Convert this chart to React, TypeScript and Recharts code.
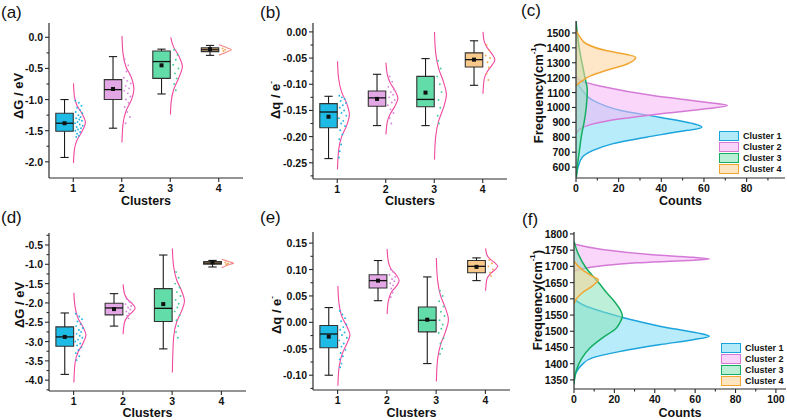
import React from "react";
import {
  ComposedChart,
  XAxis,
  YAxis,
  Line,
  Area,
  Scatter,
  ReferenceArea,
  ReferenceLine,
  Legend,
} from "recharts";

const clusters = [1, 2, 3, 4];
const clusterNames = ["Cluster 1", "Cluster 2", "Cluster 3", "Cluster 4"];

// box stats per cluster: [lower whisker, Q1, median, Q3, upper whisker, mean]
const boxA = [
  [-1.93, -1.51, -1.38, -1.22, -1.0, -1.38],
  [-1.46, -1.0, -0.84, -0.68, -0.31, -0.83],
  [-0.91, -0.66, -0.39, -0.22, -0.19, -0.45],
  [-0.29, -0.23, -0.2, -0.17, -0.13, -0.19],
];
const boxB = [
  [-0.242, -0.183, -0.153, -0.137, -0.123, -0.162],
  [-0.179, -0.142, -0.126, -0.113, -0.081, -0.128],
  [-0.179, -0.143, -0.129, -0.085, -0.051, -0.116],
  [-0.102, -0.067, -0.053, -0.04, -0.017, -0.053],
];
const boxD = [
  [-3.85, -3.12, -2.88, -2.62, -2.26, -2.88],
  [-2.6, -2.31, -2.13, -2.01, -1.76, -2.16],
  [-3.19, -2.48, -2.14, -1.63, -0.76, -2.03],
  [-1.07, -1.0, -0.97, -0.93, -0.9, -0.95],
];
const boxE = [
  [-0.1, -0.048, -0.022, -0.006, 0.028, -0.027],
  [0.041, 0.065, 0.079, 0.09, 0.117, 0.079],
  [-0.078, -0.018, 0.004, 0.029, 0.086, 0.005],
  [0.079, 0.094, 0.106, 0.117, 0.122, 0.105],
];

// distribution curves: [value, relative density]
const curveA = [
  [[-0.74, 0], [-0.95, 0.08], [-1.1, 0.3], [-1.22, 0.7], [-1.37, 1], [-1.52, 0.7], [-1.65, 0.3], [-1.8, 0.08], [-2.02, 0]],
  [[0.02, 0], [-0.25, 0.08], [-0.48, 0.35], [-0.65, 0.8], [-0.83, 1], [-1.0, 0.8], [-1.18, 0.35], [-1.4, 0.08], [-1.69, 0]],
  [[0.0, 0.02], [-0.15, 0.25], [-0.3, 0.7], [-0.47, 1], [-0.65, 0.7], [-0.85, 0.25], [-1.05, 0.05], [-1.24, 0]],
  [[-0.12, 0], [-0.17, 0.7], [-0.2, 1.05], [-0.23, 0.7], [-0.29, 0]],
];
const curveB = [
  [[-0.056, 0], [-0.09, 0.1], [-0.115, 0.35], [-0.135, 0.75], [-0.158, 1], [-0.18, 0.75], [-0.2, 0.35], [-0.225, 0.1], [-0.263, 0]],
  [[-0.059, 0], [-0.08, 0.1], [-0.097, 0.35], [-0.112, 0.75], [-0.127, 1], [-0.142, 0.75], [-0.157, 0.35], [-0.173, 0.1], [-0.196, 0]],
  [[0.0, 0], [-0.04, 0.1], [-0.07, 0.35], [-0.095, 0.75], [-0.12, 1], [-0.145, 0.75], [-0.17, 0.35], [-0.2, 0.1], [-0.244, 0]],
  [[0.0, 0], [-0.018, 0.1], [-0.03, 0.35], [-0.042, 0.75], [-0.053, 1], [-0.064, 0.75], [-0.076, 0.35], [-0.09, 0.1], [-0.118, 0]],
];
const curveD = [
  [[-1.74, 0], [-2.1, 0.1], [-2.4, 0.35], [-2.62, 0.75], [-2.83, 1], [-3.05, 0.75], [-3.27, 0.35], [-3.55, 0.1], [-4.06, 0]],
  [[-1.52, 0], [-1.75, 0.1], [-1.9, 0.35], [-2.02, 0.75], [-2.13, 1], [-2.24, 0.75], [-2.36, 0.35], [-2.52, 0.1], [-2.81, 0]],
  [[-0.59, 0], [-1.05, 0.1], [-1.4, 0.35], [-1.68, 0.75], [-1.95, 1], [-2.22, 0.75], [-2.5, 0.35], [-2.9, 0.1], [-3.8, 0]],
  [[-0.87, 0], [-0.94, 0.7], [-0.97, 1.0], [-1.0, 0.7], [-1.09, 0]],
];
const curveE = [
  [[0.069, 0], [0.035, 0.1], [0.01, 0.35], [-0.008, 0.75], [-0.024, 1], [-0.04, 0.75], [-0.06, 0.35], [-0.085, 0.1], [-0.12, 0]],
  [[0.139, 0], [0.115, 0.1], [0.1, 0.35], [0.09, 0.75], [0.079, 1], [0.068, 0.75], [0.057, 0.35], [0.04, 0.1], [0.016, 0]],
  [[0.122, 0], [0.08, 0.1], [0.05, 0.35], [0.027, 0.75], [0.005, 1], [-0.018, 0.75], [-0.042, 0.35], [-0.07, 0.1], [-0.112, 0]],
  [[0.14, 0], [0.128, 0.1], [0.12, 0.35], [0.113, 0.75], [0.106, 1], [0.099, 0.75], [0.091, 0.35], [0.082, 0.1], [0.06, 0]],
];

// raw points next to each box: [jitter 0..1, value]
const dotsA = [
  [[0.1, -1.02], [0.5, -1.05], [0.8, -1.1], [0.3, -1.13], [0.65, -1.17], [0.15, -1.2], [0.9, -1.22], [0.45, -1.25], [0.7, -1.28], [0.2, -1.3], [0.55, -1.32], [0.85, -1.34], [0.35, -1.36], [0.05, -1.38], [0.6, -1.4], [0.95, -1.42], [0.25, -1.44], [0.75, -1.46], [0.4, -1.48], [0.1, -1.5], [0.65, -1.52], [0.3, -1.55], [0.5, -1.58], [0.2, -1.6]],
  [[0.2, -0.35], [0.6, -0.45], [0.4, -0.55], [0.8, -0.6], [0.1, -0.65], [0.5, -0.7], [0.9, -0.74], [0.3, -0.78], [0.7, -0.82], [0.15, -0.86], [0.55, -0.9], [0.85, -0.95], [0.35, -1.0], [0.65, -1.05], [0.2, -1.12], [0.5, -1.2], [0.8, -1.28], [0.3, -1.38]],
  [[0.3, -0.2], [0.7, -0.28], [0.5, -0.36], [0.2, -0.44], [0.8, -0.5], [0.4, -0.58], [0.6, -0.66], [0.3, -0.75], [0.5, -0.85]],
  [[0.3, -0.18], [0.6, -0.2], [0.4, -0.22]],
];
const dotsB = [
  [[0.1, -0.122], [0.4, -0.125], [0.7, -0.128], [0.25, -0.132], [0.85, -0.136], [0.5, -0.14], [0.15, -0.145], [0.65, -0.15], [0.35, -0.155], [0.9, -0.16], [0.05, -0.165], [0.55, -0.17], [0.3, -0.175], [0.75, -0.18], [0.2, -0.188], [0.45, -0.196], [0.1, -0.205], [0.3, -0.215], [0.15, -0.228], [0.05, -0.24]],
  [[0.3, -0.085], [0.6, -0.095], [0.15, -0.105], [0.8, -0.11], [0.45, -0.115], [0.7, -0.12], [0.25, -0.125], [0.9, -0.13], [0.55, -0.135], [0.1, -0.14], [0.4, -0.148], [0.75, -0.155], [0.3, -0.165], [0.5, -0.175]],
  [[0.3, -0.055], [0.6, -0.07], [0.2, -0.085], [0.5, -0.1], [0.7, -0.115], [0.35, -0.13], [0.55, -0.145], [0.25, -0.16], [0.4, -0.175]],
  [[0.3, -0.025], [0.6, -0.035], [0.2, -0.045], [0.7, -0.05], [0.4, -0.058], [0.55, -0.068], [0.3, -0.08], [0.5, -0.092]],
];
const dotsD = [
  [[0.1, -2.28], [0.5, -2.35], [0.8, -2.42], [0.3, -2.48], [0.65, -2.55], [0.15, -2.6], [0.9, -2.65], [0.45, -2.7], [0.7, -2.75], [0.2, -2.8], [0.55, -2.85], [0.85, -2.9], [0.35, -2.95], [0.05, -3.0], [0.6, -3.05], [0.25, -3.1], [0.75, -3.15], [0.4, -3.22], [0.1, -3.3], [0.5, -3.38], [0.2, -3.48]],
  [[0.3, -1.9], [0.6, -1.97], [0.15, -2.03], [0.8, -2.08], [0.45, -2.12], [0.7, -2.17], [0.25, -2.22], [0.55, -2.27], [0.35, -2.33], [0.5, -2.4]],
  [[0.3, -1.2], [0.6, -1.35], [0.2, -1.5], [0.7, -1.6], [0.4, -1.72], [0.8, -1.82], [0.25, -1.92], [0.6, -2.02], [0.45, -2.12], [0.15, -2.22], [0.7, -2.32], [0.35, -2.45], [0.55, -2.6], [0.3, -2.75], [0.5, -2.9]],
  [[0.3, -0.95], [0.6, -0.98], [0.4, -1.0]],
];
const dotsE = [
  [[0.1, 0.022], [0.4, 0.015], [0.7, 0.008], [0.25, 0.002], [0.85, -0.004], [0.5, -0.009], [0.15, -0.014], [0.65, -0.019], [0.35, -0.024], [0.9, -0.029], [0.05, -0.034], [0.55, -0.04], [0.3, -0.046], [0.75, -0.052], [0.2, -0.058], [0.45, -0.064], [0.1, -0.07], [0.3, -0.078], [0.15, -0.085]],
  [[0.3, 0.1], [0.6, 0.095], [0.15, 0.09], [0.8, 0.086], [0.45, 0.082], [0.7, 0.078], [0.25, 0.074], [0.55, 0.07], [0.35, 0.064], [0.5, 0.056], [0.3, 0.048]],
  [[0.3, 0.06], [0.6, 0.05], [0.2, 0.04], [0.7, 0.03], [0.4, 0.02], [0.8, 0.012], [0.25, 0.004], [0.6, -0.004], [0.45, -0.012], [0.15, -0.02], [0.7, -0.03], [0.35, -0.04], [0.55, -0.05], [0.3, -0.06]],
  [[0.3, 0.118], [0.6, 0.112], [0.2, 0.106], [0.7, 0.1], [0.4, 0.094], [0.5, 0.088]],
];

// frequency histograms (fitted): [frequency cm-1, counts]
const densC = [
  [[1180, 0], [1114, 3], [1047, 8], [980, 21], [935, 39], [895, 54], [868, 59], [835, 47], [801, 33], [756, 17], [712, 8], [667, 3], [600, 1], [533, 0]],
  [[1214, 0], [1180, 2], [1136, 14], [1080, 36], [1035, 61], [1013, 71], [991, 61], [957, 39], [924, 21], [890, 8], [857, 2], [823, 0]],
  [[1580, 0], [1500, 0.6], [1400, 1.5], [1300, 2.8], [1200, 4.2], [1120, 5.3], [1000, 4.8], [900, 3.8], [823, 2.7], [700, 1.5], [600, 0.6], [533, 0.2]],
  [[1520, 0], [1470, 2], [1426, 5], [1382, 14], [1355, 24], [1337, 28], [1315, 27], [1292, 24], [1248, 14], [1214, 7], [1170, 2], [1147, 0]],
];
const densF = [
  [[1598, 0], [1577, 6], [1557, 16], [1536, 28], [1515, 43], [1495, 61], [1485, 67], [1474, 59], [1459, 43], [1438, 23], [1418, 9], [1397, 4], [1372, 1], [1346, 0]],
  [[1769, 0], [1752, 14], [1736, 39], [1728, 59], [1723, 67], [1718, 56], [1711, 31], [1702, 14], [1695, 6], [1685, 0]],
  [[1777, 0], [1740, 2], [1695, 6], [1644, 13], [1620, 16], [1592, 20], [1565, 23], [1546, 24], [1530, 23], [1510, 21], [1479, 14], [1449, 8], [1418, 4], [1377, 1], [1336, 0]],
  [[1716, 0], [1690, 4], [1670, 9], [1659, 12], [1650, 11], [1639, 9], [1618, 4], [1598, 1], [1582, 0]],
];

// tick values
const ticksAMajor = [-2, -1.5, -1, -0.5, 0];
const ticksAMinor = [-1.75, -1.25, -0.75, -0.25];
const ticksBMajor = [-0.25, -0.2, -0.15, -0.1, -0.05, 0];
const ticksBMinor = [-0.275, -0.225, -0.175, -0.125, -0.075, -0.025];
const ticksDMajor = [-4, -3.5, -3, -2.5, -2, -1.5, -1, -0.5];
const ticksDMinor = [-4.25, -3.75, -3.25, -2.75, -2.25, -1.75, -1.25, -0.75, -0.25];
const ticksEMajor = [-0.1, -0.05, 0, 0.05, 0.1, 0.15];
const ticksEMinor = [-0.125, -0.075, -0.025, 0.025, 0.075, 0.125];
const ticksCFreq = [600, 700, 800, 900, 1000, 1100, 1200, 1300, 1400, 1500];
const ticksFFreq = [1350, 1400, 1450, 1500, 1550, 1600, 1650, 1700, 1750, 1800];
const ticksCCounts = [0, 20, 40, 60, 80];
const ticksCCountsMinor = [10, 30, 50, 70, 90];
const ticksFCounts = [0, 20, 40, 60, 80, 100];
const ticksFCountsMinor = [10, 30, 50, 70, 90];

const FONT = "'Liberation Sans', Arial, Helvetica, sans-serif";
const AX = "#2a2a2a";
const boxFill = ["#1dbbe5", "#e3a7e6", "#62dca8", "#f8c98a"];
const dotFill = ["#1fb6e6", "#d985e0", "#3fcf95", "#f0a850"];
const curvePink = "#f0479f";
const curveSalmon = "#f48888";
const densStroke = ["#1ba4dc", "#d47ad6", "#15ad60", "#f1a633"];
const densFill = ["#7fdcf5", "#f5b5f5", "#88e4b9", "#fcd39a"];

// layout of the box / half-violin pieces relative to each cluster position
const BOX_L = -0.36;
const BOX_R = 0;
const CAP = 0.085;
const CURVE_X0 = 0.005;
const CURVE_AMP = 0.245;
const DOT_X0 = 0.025;
const DOT_SPREAD = 0.18;

const axisLine = { stroke: AX, strokeWidth: 1.2 };

function LeftTick({ x, y, payload, major, digits }: any) {
  const isMajor = major.includes(payload.value);
  return (
    <g>
      <line x1={x} x2={x - (isMajor ? 4 : 2.5)} y1={y} y2={y} stroke={AX} strokeWidth={1.1} />
      {isMajor && (
        <text x={x - 6} y={y} textAnchor="end" dominantBaseline="central" fontFamily={FONT} fontWeight={700} fontSize={10.5} fill="#111">
          {payload.value.toFixed(digits)}
        </text>
      )}
    </g>
  );
}

function BottomTick({ x, y, payload, major }: any) {
  const isMajor = major.includes(payload.value);
  return (
    <g>
      <line x1={x} x2={x} y1={y} y2={y + (isMajor ? 4 : 2.5)} stroke={AX} strokeWidth={1.1} />
      {isMajor && (
        <text x={x} y={y + 9.5} textAnchor="middle" dominantBaseline="central" fontFamily={FONT} fontWeight={700} fontSize={10.5} fill="#111">
          {payload.value}
        </text>
      )}
    </g>
  );
}

function vTitle(x: number, y: number, content: React.ReactNode) {
  return () => (
    <text x={x} y={y} transform={`rotate(-90, ${x}, ${y})`} textAnchor="middle" dominantBaseline="central" fontFamily={FONT} fontWeight={700} fontSize={13} fill="#111">
      {content}
    </text>
  );
}

function hTitle(x: number, y: number, text: string) {
  return () => (
    <text x={x} y={y} textAnchor="middle" dominantBaseline="central" fontFamily={FONT} fontWeight={700} fontSize={12.5} fill="#111">
      {text}
    </text>
  );
}

const frameAxes = (vertical: boolean) => [
  <XAxis key="fx" xAxisId="top" orientation="top" type="number" domain={[0, 1]} height={0} tick={false} tickLine={false} axisLine={axisLine} />,
  <YAxis key="fy" yAxisId="right" orientation="right" type="number" domain={[0, 1]} width={0} tick={false} tickLine={false} axisLine={axisLine} reversed={vertical} />,
];

type BoxPanelProps = {
  left: number; top: number; width: number; height: number;
  marginTop: number; marginRight: number; yAxisWidth: number; xAxisHeight: number; xTitleY: number;
  yDomain: [number, number]; yMajor: number[]; yMinor: number[]; digits: number;
  boxes: number[][]; curves: number[][][]; dots: number[][][];
  lastCurve: string; title: React.ReactNode; titleX: number; titleY: number;
};

function BoxPanel(p: BoxPanelProps) {
  const mid = (BOX_L + BOX_R) / 2;
  const plotMid = (p.yAxisWidth + p.width - p.marginRight) / 2;
  const whisk = { stroke: "#1a1a1a", strokeWidth: 1.1 };

  const boxEls = p.boxes.flatMap(([lo, q1, med, q3, hi], i) => {
    const c = clusters[i];
    return [
      <ReferenceLine key={`wu${i}`} segment={[{ x: c + mid, y: q3 }, { x: c + mid, y: hi }]} {...whisk} />,
      <ReferenceLine key={`wl${i}`} segment={[{ x: c + mid, y: q1 }, { x: c + mid, y: lo }]} {...whisk} />,
      <ReferenceLine key={`cu${i}`} segment={[{ x: c + mid - CAP, y: hi }, { x: c + mid + CAP, y: hi }]} {...whisk} />,
      <ReferenceLine key={`cl${i}`} segment={[{ x: c + mid - CAP, y: lo }, { x: c + mid + CAP, y: lo }]} {...whisk} />,
      <ReferenceArea key={`b${i}`} x1={c + BOX_L} x2={c + BOX_R} y1={q1} y2={q3} fill={boxFill[i]} fillOpacity={1} stroke="#333" strokeWidth={1.1} />,
      <ReferenceLine key={`m${i}`} segment={[{ x: c + BOX_L, y: med }, { x: c + BOX_R, y: med }]} stroke="#111" strokeWidth={1.3} />,
    ];
  });

  const means = p.boxes.map((b, i) => ({ x: clusters[i] + mid, y: b[5] }));

  return (
    <div style={{ position: "absolute", left: p.left, top: p.top }}>
      <ComposedChart width={p.width} height={p.height} margin={{ top: p.marginTop, right: p.marginRight, bottom: 0, left: 0 }}>
        <XAxis
          dataKey="x" type="number" domain={[0.5, 4.5]} allowDataOverflow ticks={clusters} interval={0}
          height={p.xAxisHeight} tickSize={0} tickMargin={0} tickLine={false} axisLine={axisLine}
          tick={(t: any) => <BottomTick {...t} major={clusters} />}
          label={{ content: hTitle(plotMid, p.xTitleY, "Clusters") }}
        />
        <YAxis
          dataKey="y" type="number" domain={p.yDomain} allowDataOverflow ticks={[...p.yMajor, ...p.yMinor]} interval={0}
          width={p.yAxisWidth} tickSize={0} tickMargin={0} tickLine={false} axisLine={axisLine}
          tick={(t: any) => <LeftTick {...t} major={p.yMajor} digits={p.digits} />}
          label={{ content: vTitle(p.titleX, p.titleY, p.title) }}
        />
        {frameAxes(false)}
        {boxEls}
        {p.curves.map((cv, i) => (
          <Line
            key={`cv${i}`}
            data={cv.map(([v, d]) => ({ x: clusters[i] + CURVE_X0 + d * CURVE_AMP, y: v }))}
            dataKey="y" type="monotoneY" stroke={i === 3 ? p.lastCurve : curvePink} strokeWidth={1.1}
            dot={false} activeDot={false} isAnimationActive={false}
          />
        ))}
        {p.dots.map((ds, i) => (
          <Scatter
            key={`d${i}`}
            data={ds.map(([j, v]) => ({ x: clusters[i] + DOT_X0 + j * DOT_SPREAD, y: v }))}
            shape={(s: any) => <circle cx={s.cx} cy={s.cy} r={0.95} fill={dotFill[i]} />}
            isAnimationActive={false}
          />
        ))}
        <Scatter
          data={means}
          shape={(s: any) => <rect x={s.cx - 2} y={s.cy - 2} width={4} height={4} fill="#111" />}
          isAnimationActive={false}
        />
      </ComposedChart>
    </div>
  );
}

type DensPanelProps = {
  left: number; top: number; width: number; height: number;
  marginTop: number; marginRight: number; yAxisWidth: number; xAxisHeight: number; xTitleY: number;
  xMax: number; xMajor: number[]; xMinor: number[];
  yDomain: [number, number]; yMajor: number[];
  series: number[][][]; titleX: number; titleY: number; legendLeft: number; legendTop: number;
};

function DensityPanel(p: DensPanelProps) {
  const plotMid = (p.yAxisWidth + p.width - p.marginRight) / 2;
  return (
    <div style={{ position: "absolute", left: p.left, top: p.top }}>
      <ComposedChart layout="vertical" width={p.width} height={p.height} margin={{ top: p.marginTop, right: p.marginRight, bottom: 0, left: 0 }}>
        <XAxis
          type="number" domain={[0, p.xMax]} allowDataOverflow ticks={[...p.xMajor, ...p.xMinor]} interval={0}
          height={p.xAxisHeight} tickSize={0} tickMargin={0} tickLine={false} axisLine={axisLine}
          tick={(t: any) => <BottomTick {...t} major={p.xMajor} />}
          label={{ content: hTitle(plotMid, p.xTitleY, "Counts") }}
        />
        <YAxis
          dataKey="f" type="number" domain={p.yDomain} allowDataOverflow reversed ticks={p.yMajor} interval={0}
          width={p.yAxisWidth} tickSize={0} tickMargin={0} tickLine={false} axisLine={axisLine}
          tick={(t: any) => <LeftTick {...t} major={p.yMajor} digits={0} />}
          label={{
            content: vTitle(p.titleX, p.titleY, (
              <>
                Frequency(cm<tspan dy={-5} fontSize={8}>-1</tspan>
                <tspan dy={5}>)</tspan>
              </>
            )),
          }}
        />
        {frameAxes(true)}
        {p.series.map((s, i) => (
          <Area
            key={`a${i}`}
            data={s.map(([f, n]) => ({ f, n }))}
            dataKey="n" type="monotone" baseValue={0}
            stroke={densStroke[i]} strokeWidth={1.5} fill={densFill[i]} fillOpacity={0.55}
            dot={false} activeDot={false} isAnimationActive={false}
          />
        ))}
        <Legend
          layout="vertical" align="center" verticalAlign="middle"
          wrapperStyle={{ left: p.legendLeft, top: p.legendTop, width: 70, height: 46 }}
          content={() => (
            <div style={{ fontFamily: FONT, fontWeight: 700, fontSize: 9, color: "#111" }}>
              {clusterNames.map((n, i) => (
                <div key={n} style={{ display: "flex", alignItems: "center", height: 11 }}>
                  <span style={{ display: "inline-block", width: 18, height: 8, background: densFill[i] + "99", border: `1px solid ${densStroke[i]}`, marginRight: 4 }} />
                  {n}
                </div>
              ))}
            </div>
          )}
        />
      </ComposedChart>
    </div>
  );
}

const dq = (
  <>
    Δq / e<tspan dy={-5} fontSize={8}>-</tspan>
  </>
);

const panelLabel = (text: string, left: number, top: number) => (
  <span style={{ position: "absolute", left, top, fontFamily: FONT, fontSize: 17, lineHeight: "20px", color: "#111" }}>{text}</span>
);

export default function App() {
  return (
    <div style={{ position: "relative", width: 787, height: 420, background: "#fff", overflow: "hidden" }}>
      <style>{"body{margin:0}"}</style>
      <BoxPanel
        left={0} top={0} width={260} height={210} marginTop={23} marginRight={17} yAxisWidth={49} xAxisHeight={32} xTitleY={201}
        yDomain={[-2.26, 0.23]} yMajor={ticksAMajor} yMinor={ticksAMinor} digits={1}
        boxes={boxA} curves={curveA} dots={dotsA} lastCurve={curveSalmon}
        title="ΔG / eV" titleX={18} titleY={96}
      />
      <BoxPanel
        left={260} top={0} width={260} height={210} marginTop={23} marginRight={13} yAxisWidth={53} xAxisHeight={31} xTitleY={201}
        yDomain={[-0.281, 0.017]} yMajor={ticksBMajor} yMinor={ticksBMinor} digits={2}
        boxes={boxB} curves={curveB} dots={dotsB} lastCurve={curvePink}
        title={dq} titleX={15} titleY={100}
      />
      <DensityPanel
        left={520} top={0} width={267} height={210} marginTop={21} marginRight={2} yAxisWidth={56} xAxisHeight={32} xTitleY={201}
        xMax={98} xMajor={ticksCCounts} xMinor={ticksCCountsMinor}
        yDomain={[527, 1580]} yMajor={ticksCFreq}
        series={densC} titleX={18} titleY={93} legendLeft={199} legendTop={130}
      />
      <BoxPanel
        left={0} top={205} width={260} height={215} marginTop={28} marginRight={14} yAxisWidth={49} xAxisHeight={29} xTitleY={208}
        yDomain={[-4.28, -0.19]} yMajor={ticksDMajor} yMinor={ticksDMinor} digits={1}
        boxes={boxD} curves={curveD} dots={dotsD} lastCurve={curveSalmon}
        title="ΔG / eV" titleX={19} titleY={100}
      />
      <BoxPanel
        left={260} top={205} width={260} height={215} marginTop={27} marginRight={10} yAxisWidth={53} xAxisHeight={30} xTitleY={208}
        yDomain={[-0.128, 0.171]} yMajor={ticksEMajor} yMinor={ticksEMinor} digits={2}
        boxes={boxE} curves={curveE} dots={dotsE} lastCurve={curvePink}
        title={dq} titleX={16} titleY={110}
      />
      <DensityPanel
        left={520} top={205} width={267} height={215} marginTop={27} marginRight={1} yAxisWidth={54} xAxisHeight={31} xTitleY={208}
        xMax={105} xMajor={ticksFCounts} xMinor={ticksFCountsMinor}
        yDomain={[1322, 1806]} yMajor={ticksFFreq}
        series={densF} titleX={17} titleY={95} legendLeft={201} legendTop={137}
      />
      {panelLabel("(a)", 1, 3)}
      {panelLabel("(b)", 260, 3)}
      {panelLabel("(c)", 521, 1)}
      {panelLabel("(d)", 1, 208)}
      {panelLabel("(e)", 260, 208)}
      {panelLabel("(f)", 522, 210)}
    </div>
  );
}
